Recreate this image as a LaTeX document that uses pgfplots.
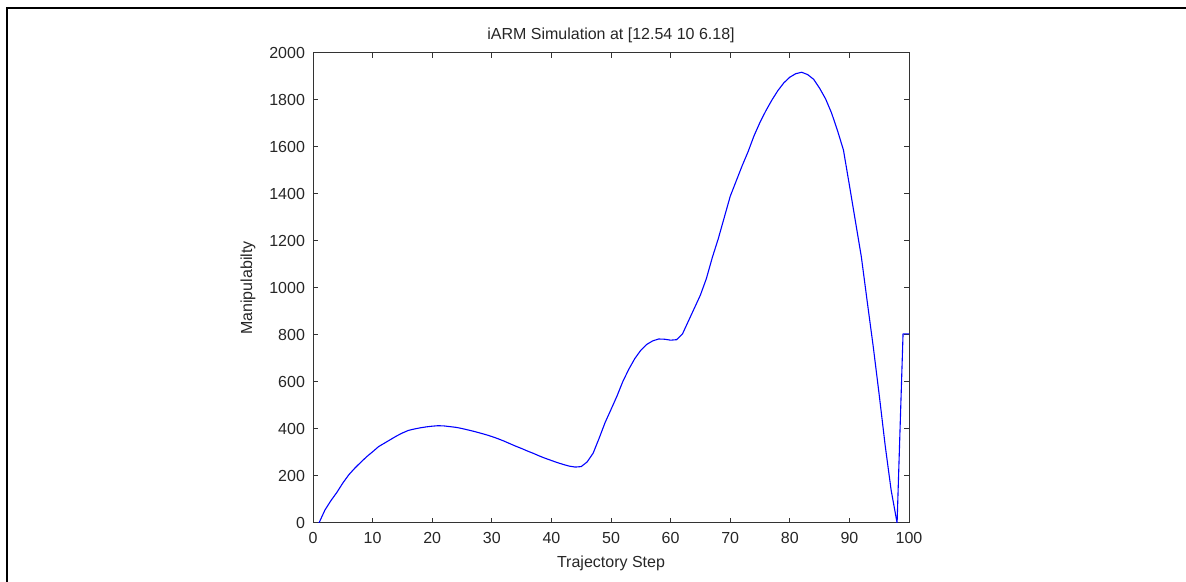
\documentclass[border=0pt]{standalone}
\usepackage{fontspec}
\setmainfont{Liberation Sans}
\usepackage{pgfplots}
\pgfplotsset{compat=1.18}
\begin{document}
\begin{tikzpicture}
\path[use as bounding box] (0,0) rectangle (593pt,291pt);
\draw[line width=1.2pt] (3.5pt,0) -- (3.5pt,286.9pt) -- (593pt,286.9pt);
\begin{axis}[
  at={(156.5pt,29.5pt)}, anchor=south west,
  scale only axis, width=298pt, height=235pt,
  xmin=0, xmax=100, ymin=0, ymax=2000,
  xtick={0,10,...,100}, ytick={0,200,...,2000},
  tick align=inside, major tick length=2.5pt,
  axis line style={black!80, line width=0.5pt},
  every tick/.style={black!80, line width=0.5pt},
  /pgf/number format/assume math mode=true,
  /pgf/number format/1000 sep={},
  tick label style={font=\fontsize{8pt}{9pt}\selectfont, text=black!85},
  xticklabel style={yshift=-1pt},
  yticklabel style={xshift=-0.5pt},
  title={iARM Simulation at [12.54 10 6.18]},
  title style={at={(axis description cs:0.5,1)}, anchor=center, yshift=3pt, font=\fontsize{8pt}{9pt}\selectfont, text=black!85},
  xlabel={Trajectory Step},
  xlabel style={at={(axis description cs:0.5,-0.085)}, anchor=center, font=\fontsize{8pt}{9pt}\selectfont, text=black!85},
  ylabel={Manipulabilty},
  ylabel style={at={(axis description cs:-0.109,0.5)}, anchor=center, font=\fontsize{8pt}{9pt}\selectfont, text=black!85},
]
\addplot[color=blue, line width=0.55pt, mark=none] coordinates {
(1,0) (2,55) (3,95) (4,130) (5,170) (6,205) (7,233) (8,258) (9,282) (10,303)
(11,325) (12,340) (13,355) (14,370) (15,383) (16,394) (17,400) (18,405) (19,409) (20,412)
(21,414) (22,413) (23,410) (24,407) (25,402) (26,396) (27,390) (28,383) (29,376) (30,368)
(31,359) (32,349) (33,338) (34,327) (35,317) (36,306) (37,296) (38,285) (39,275) (40,266)
(41,257) (42,249) (43,242) (44,238) (45,240) (46,260) (47,297) (48,360) (49,427) (50,483)
(51,540) (52,603) (53,655) (54,700) (55,735) (56,760) (57,775) (58,783) (59,782) (60,778)
(61,780) (62,805) (63,860) (64,915) (65,970) (66,1040) (67,1130) (68,1210) (69,1300) (70,1390)
(71,1455) (72,1520) (73,1580) (74,1648) (75,1705) (76,1755) (77,1800) (78,1840) (79,1873) (80,1897)
(81,1912) (82,1918) (83,1908) (84,1888) (85,1850) (86,1805) (87,1745) (88,1670) (89,1587) (90,1437)
(91,1285) (92,1133) (93,940) (94,750) (95,545) (96,330) (97,140) (98,0) (99,805) (100,805)
};
\end{axis}
\end{tikzpicture}
\end{document}
